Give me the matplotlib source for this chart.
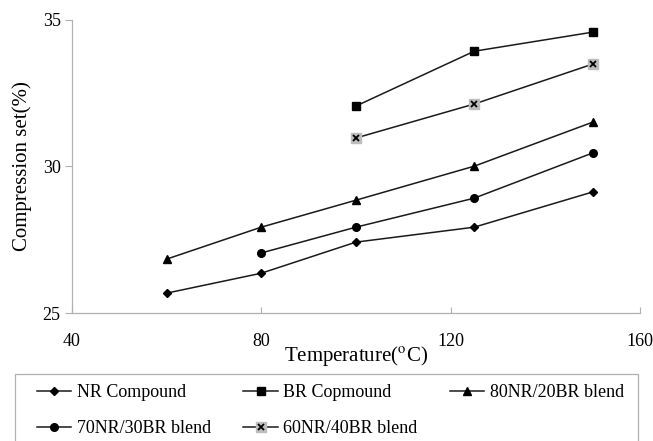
import matplotlib.pyplot as plt
from matplotlib.patches import Rectangle

plt.rcParams['font.family'] = 'Liberation Serif'
plt.rcParams['mathtext.fontset'] = 'stix'

# temperatures (degC)
temp_nr = [60, 80, 100, 125, 150]
temp_br = [100, 125, 150]
temp_80_20 = [60, 80, 100, 125, 150]
temp_70_30 = [80, 100, 125, 150]
temp_60_40 = [100, 125, 150]

# compression set (%)
cs_nr = [25.68, 26.36, 27.42, 27.93, 29.13]
cs_br = [32.06, 33.93, 34.58]
cs_80_20 = [26.84, 27.93, 28.85, 30.01, 31.51]
cs_70_30 = [27.05, 27.93, 28.92, 30.46]
cs_60_40 = [30.97, 32.13, 33.49]

labels = ["NR Compound", "BR Copmound", "80NR/20BR blend",
          "70NR/30BR blend", "60NR/40BR blend"]

fig = plt.figure(figsize=(6.53, 4.41), dpi=100)
ax = fig.add_axes([0.110, 0.290, 0.870, 0.665])

lc = '#1a1a1a'
h_nr, = ax.plot(temp_nr, cs_nr, color=lc, lw=1.1, marker='D', ms=4.5, mfc='black', mec='black')
h_br, = ax.plot(temp_br, cs_br, color=lc, lw=1.1, marker='s', ms=5.5, mfc='black', mec='black')
h_80, = ax.plot(temp_80_20, cs_80_20, color=lc, lw=1.1, marker='^', ms=6, mfc='black', mec='black')
h_70, = ax.plot(temp_70_30, cs_70_30, color=lc, lw=1.1, marker='o', ms=5.5, mfc='black', mec='black')
h_60a, = ax.plot(temp_60_40, cs_60_40, color=lc, lw=1.1, marker='s', ms=7, mfc='#bdbdbd', mec='#bdbdbd')
h_60b, = ax.plot(temp_60_40, cs_60_40, ls='none', marker='x', ms=4.5, mec='black', mew=1.3)

ax.set_xlim(40, 160)
ax.set_ylim(25, 35)
ax.set_xticks([40, 80, 120, 160])
ax.set_yticks([25, 30, 35])

for s in ['top', 'right']:
    ax.spines[s].set_visible(False)
for s in ['left', 'bottom']:
    ax.spines[s].set_color('#b0b0b0')
    ax.spines[s].set_linewidth(0.9)

ax.tick_params(axis='x', direction='in', length=4, color='#b0b0b0', pad=14, labelsize=13)
ax.tick_params(axis='y', direction='out', length=5, color='#b0b0b0', pad=3, labelsize=13)

ax.set_xlabel('Temperature(' + r'$^{\mathrm{o}}$' + 'C)', fontsize=15, labelpad=-4)
ax.set_ylabel('Compression set(%)', fontsize=15, labelpad=8)

# legend frame (runs off the bottom of the image like the original)
fig.patches.append(Rectangle((15 / 653, -0.05), (638 - 15) / 653, 0.05 + 1 - 374 / 441,
                             transform=fig.transFigure, fill=False,
                             edgecolor='#b0b0b0', linewidth=0.9))

handles = [h_nr, h_70, h_br, (h_60a, h_60b), h_80]
leg_labels = [labels[0], labels[3], labels[1], labels[4], labels[2]]
leg = fig.legend(handles, leg_labels, ncol=3, loc='upper left',
                 bbox_to_anchor=(37 / 653, 1 - 384 / 441), frameon=False,
                 fontsize=13, handlelength=1.9, handletextpad=0.3, borderpad=0,
                 labelspacing=1.05, columnspacing=1.8, borderaxespad=0)

fig.savefig('out.png', dpi=100)
